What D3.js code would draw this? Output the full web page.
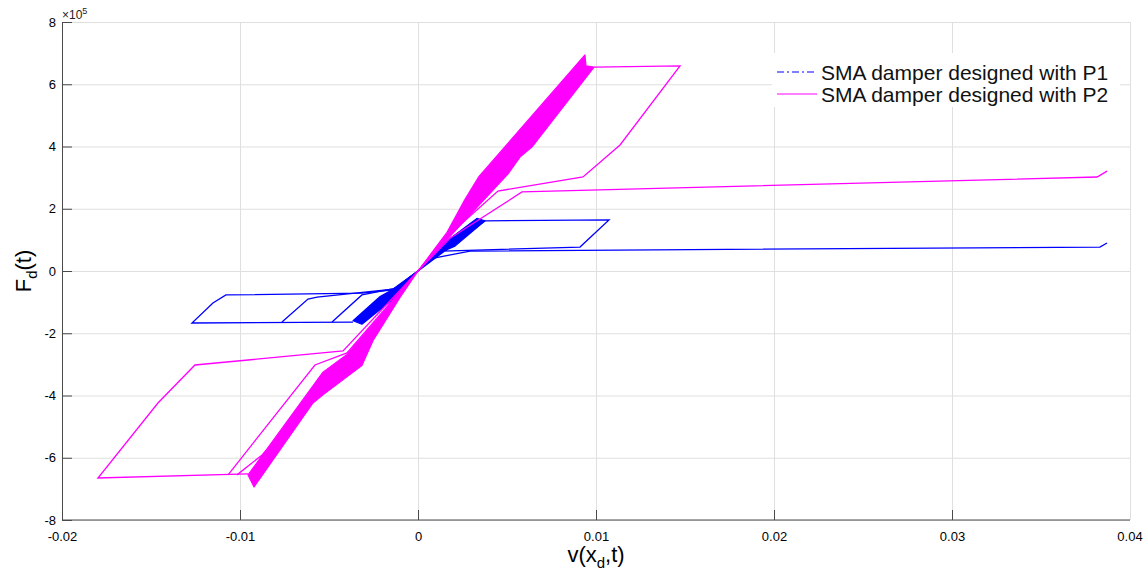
<!DOCTYPE html>
<html>
<head>
<meta charset="utf-8">
<script src="https://cdn.jsdelivr.net/npm/d3@7"></script>
<style>
  body { margin: 0; background: #fff; }
  svg { display: block; font-family: Helvetica, Arial, "Liberation Sans", sans-serif; }
</style>
</head>
<body>
<svg id="chart" width="1148" height="577"></svg>
<script>
// axis ticks (x in m, y in units of 1e5 N)
const xTicks = [-0.02, -0.01, 0, 0.01, 0.02, 0.03, 0.04];
const yTicks = [-8, -6, -4, -2, 0, 2, 4, 6, 8];

// P1 (blue) - dense bands of overlapping cycles, outlined
const p1BandUpper = [[0, 0], [0.00084, 0.53], [0.00124, 0.80], [0.00331, 1.69], [0.00376, 1.61],
  [0.00208, 0.80], [0.00124, 0.60], [0.00067, 0.33], [0, 0]];
const p1BandLower = [[0, 0], [-0.00112, -0.50], [-0.00213, -0.82], [-0.00365, -1.60], [-0.00315, -1.71],
  [-0.00185, -1.11], [-0.00101, -0.73], [0, 0]];
// P1 single branches
const p1Loop1 = [[0, 0], [0.00376, 1.61], [0.01073, 1.64], [0.00910, 0.77], [0.00140, 0.64], [0, 0]];
const p1Loop2 = [[0, 0], [0.00067, 0.39], [0.00292, 0.64], [0.03831, 0.77], [0.03871, 0.90]];
const p1Loop3 = [[0, 0], [-0.00140, -0.61], [-0.00315, -0.71], [-0.01079, -0.77], [-0.01152, -1.03],
  [-0.01270, -1.67], [-0.00365, -1.64]];
const p1Loop4 = [[-0.00764, -1.64], [-0.00618, -0.90], [-0.00567, -0.84], [-0.00140, -0.58], [0, 0]];
const p1Loop5 = [[-0.00483, -1.64], [-0.00315, -0.77], [-0.00129, -0.56], [0, 0]];

// P2 (magenta)
const p2Band = [[-0.00921, -6.94], [-0.00955, -6.55], [-0.00534, -3.25], [-0.00399, -2.68], [-0.00101, -0.70],
  [0, 0], [0.00163, 1.24], [0.00264, 2.30], [0.00343, 3.04], [0.00938, 6.94], [0.00944, 6.59], [0.00989, 6.55],
  [0.00640, 3.98], [0.00573, 3.66], [0.00506, 3.12], [0.00197, 1.22], [0, 0], [-0.00101, -0.85],
  [-0.00253, -2.24], [-0.00315, -3.04], [-0.00534, -3.98], [-0.00590, -4.24], [-0.00921, -6.94]];
const p2Loop1 = [[0.00989, 6.55], [0.01472, 6.59], [0.01135, 4.05], [0.00927, 3.02], [0.00449, 2.57],
  [0.00163, 1.10], [0, 0]];
const p2Loop2 = [[0, 0], [0.00180, 1.05], [0.00584, 2.54], [0.03815, 3.02], [0.03871, 3.21]];
const p2Loop3 = [[0, 0], [-0.00421, -2.57], [-0.01253, -3.02], [-0.01461, -4.24], [-0.01798, -6.65],
  [-0.00955, -6.52]];
const p2Loop4 = [[-0.01067, -6.55], [-0.00579, -3.02], [-0.00399, -2.63], [0, 0]];
const p2Loop5 = [[-0.01017, -6.55], [-0.00876, -5.91], [-0.00850, -5.75]];

const legendLabels = ["SMA damper designed with P1", "SMA damper designed with P2"];

const svg = d3.select("#chart");
const plotLeft = 62, plotRight = 1130, plotTop = 22, plotBottom = 520;

const x = d3.scaleLinear().domain([-0.02, 0.04]).range([plotLeft, plotRight]);
const y = d3.scaleLinear().domain([-8, 8]).range([plotBottom, plotTop]);

// grid
svg.append("g")
  .attr("transform", `translate(0,${plotBottom})`)
  .call(d3.axisBottom(x).tickValues(xTicks).tickSize(-(plotBottom - plotTop)).tickFormat(""))
  .call(g => g.select(".domain").remove())
  .call(g => g.selectAll("line").attr("stroke", "#dfdfdf"));
svg.append("g")
  .attr("transform", `translate(${plotLeft},0)`)
  .call(d3.axisLeft(y).tickValues(yTicks).tickSize(-(plotRight - plotLeft)).tickFormat(""))
  .call(g => g.select(".domain").remove())
  .call(g => g.selectAll("line").attr("stroke", "#dfdfdf"));

const line = d3.line().x(d => x(d[0])).y(d => y(d[1]));

// P1
const blue = "#0000ff";
[p1BandUpper, p1BandLower].forEach(b => {
  svg.append("path").attr("d", line(b) + "Z")
    .attr("fill", blue).attr("stroke", blue).attr("stroke-width", 1.2).attr("stroke-linejoin", "round");
});
[p1Loop1, p1Loop2, p1Loop3, p1Loop4, p1Loop5].forEach(p => {
  svg.append("path").attr("d", line(p))
    .attr("fill", "none").attr("stroke", blue).attr("stroke-width", 1.3);
});

// P2
const magenta = "#ff00ff";
svg.append("path").attr("d", line(p2Band) + "Z")
  .attr("fill", magenta).attr("stroke", magenta).attr("stroke-width", 1.2).attr("stroke-linejoin", "round");
[p2Loop1, p2Loop2, p2Loop3, p2Loop4, p2Loop5].forEach(p => {
  svg.append("path").attr("d", line(p))
    .attr("fill", "none").attr("stroke", magenta).attr("stroke-width", 1.3);
});

// axes
const axisColor = "#4a4a4a";
svg.append("g")
  .attr("transform", `translate(0,${plotBottom})`)
  .call(d3.axisBottom(x).tickValues(xTicks.slice(0, -1)).tickSizeInner(-10).tickSizeOuter(0).tickPadding(12)
    .tickFormat(d => d === 0 ? "0" : d.toFixed(2)))
  .call(g => g.select(".domain").attr("d", `M${plotLeft},0H${plotRight}`))
  .call(g => g.selectAll("line,.domain").attr("stroke", axisColor))
  .call(g => g.selectAll("text").attr("font-size", 13).attr("fill", "#000").attr("font-family", null));
svg.append("text").attr("x", x(0.04)).attr("y", plotBottom + 12).attr("dy", "0.71em")
  .attr("text-anchor", "middle").attr("font-size", 13).text("0.04");
svg.append("g")
  .attr("transform", `translate(${plotLeft},0)`)
  .call(d3.axisLeft(y).tickValues(yTicks).tickSizeInner(-10).tickSizeOuter(0).tickPadding(6)
    .tickFormat(d => String(d)))
  .call(g => g.selectAll("line,.domain").attr("stroke", axisColor))
  .call(g => g.selectAll("text").attr("font-size", 13).attr("fill", "#000").attr("font-family", null));

// exponent
const ex = svg.append("text").attr("x", plotLeft).attr("y", 19).attr("font-size", 12).attr("fill", "#222");
ex.append("tspan").text("\u00d710");
ex.append("tspan").attr("dy", -5).attr("font-size", 9).text("5");

// axis labels
const xl = svg.append("text").attr("x", (plotLeft + plotRight) / 2).attr("y", 562)
  .attr("text-anchor", "middle").attr("font-size", 22);
xl.append("tspan").text("v(x");
xl.append("tspan").attr("dy", 6).attr("font-size", 15).text("d");
xl.append("tspan").attr("dy", -6).text(",t)");

const yl = svg.append("text").attr("transform", `translate(31,${(plotTop + plotBottom) / 2}) rotate(-90)`)
  .attr("text-anchor", "middle").attr("font-size", 22);
yl.append("tspan").text("F");
yl.append("tspan").attr("dy", 6).attr("font-size", 15).text("d");
yl.append("tspan").attr("dy", -6).text("(t)");

// legend
const lg = svg.append("g");
lg.append("rect").attr("x", 772).attr("y", 53).attr("width", 348).attr("height", 54).attr("fill", "#fff");
legendLabels.forEach((t, i) => {
  const ly = 72 + i * 22;
  lg.append("line").attr("x1", 777).attr("x2", 817).attr("y1", ly).attr("y2", ly)
    .attr("stroke", i === 0 ? blue : magenta).attr("stroke-width", 1.2)
    .attr("stroke-dasharray", i === 0 ? "7,3,2,3" : null);
  lg.append("text").attr("x", 821).attr("y", ly + 7.5).attr("font-size", 21).attr("fill", "#111").text(t);
});
</script>
</body>
</html>
